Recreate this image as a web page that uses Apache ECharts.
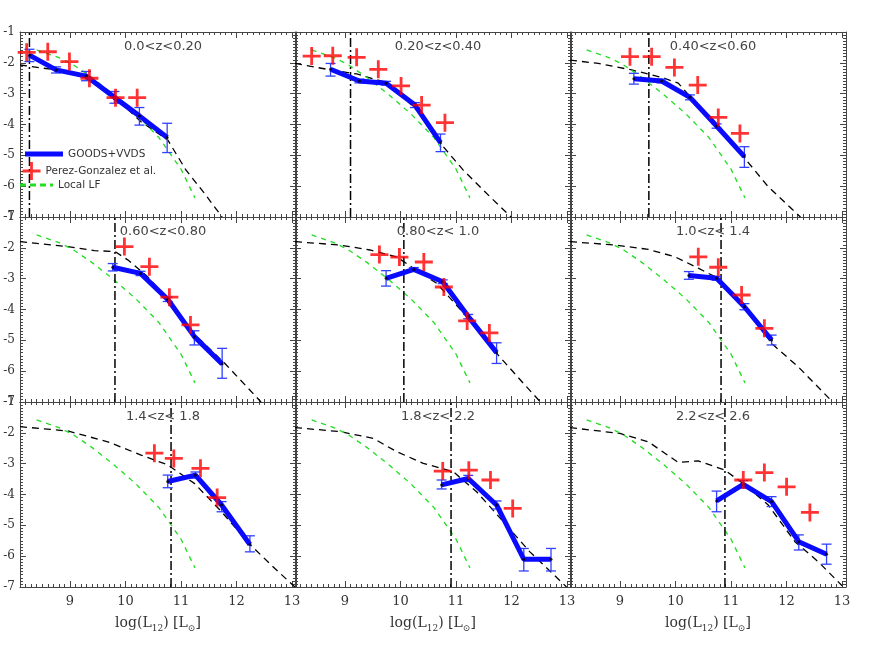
<!DOCTYPE html>
<html>
<head>
<meta charset="utf-8">
<script src="https://cdn.jsdelivr.net/npm/echarts@6/dist/echarts.min.js"></script>
<style>
  html, body { margin: 0; background: #fff; }
  #chart { width: 887px; height: 654px; }
</style>
</head>
<body>
<div id="chart"></div>
<script>
// redshift bins, one panel each (row by row)
const zLabels = ['0.0<z<0.20', '0.20<z<0.40', '0.40<z<0.60',
                 '0.60<z<0.80', '0.80<z< 1.0', '1.0<z< 1.4',
                 '1.4<z< 1.8', '1.8<z< 2.2', '2.2<z< 2.6']

// GOODS+VVDS luminosity function, log(phi) with error range
const blueX = [
  [8.27, 8.75, 9.29, 9.80, 10.25, 10.75],
  [8.74, 9.26, 9.74, 10.26, 10.72],
  [9.25, 9.75, 10.26, 10.74, 11.24],
  [9.77, 10.27, 10.76, 11.24, 11.74],
  [9.74, 10.24, 10.76, 11.22, 11.73],
  [10.24, 10.74, 11.24, 11.73],
  [10.76, 11.26, 11.73, 12.24],
  [10.74, 11.22, 11.73, 12.22, 12.71],
  [10.74, 11.22, 11.73, 12.22, 12.72],
]
const blueY = [
  [-1.75, -2.23, -2.43, -3.12, -3.72, -4.42],
  [-2.21, -2.59, -2.66, -3.37, -4.59],
  [-2.52, -2.59, -3.12, -4.05, -5.04],
  [-2.63, -2.83, -3.67, -4.88, -5.77],
  [-2.99, -2.70, -3.10, -4.23, -5.40],
  [-2.90, -2.99, -3.91, -4.99],
  [-3.58, -3.37, -4.34, -5.62],
  [-3.69, -3.48, -4.34, -6.10, -6.10],
  [-4.21, -3.67, -4.23, -5.53, -5.94],
]
const errLo = [
  [-1.96, -2.33, -2.58, -3.31, -4.02, -4.91],
  [-2.43, -2.65, -2.72, -3.45, -4.88],
  [-2.69, -2.65, -3.20, -4.12, -5.39],
  [-2.75, -2.90, -3.74, -5.15, -6.23],
  [-3.24, -2.76, -3.16, -4.30, -5.75],
  [-3.02, -3.05, -4.01, -5.15],
  [-3.78, -3.47, -4.56, -5.86],
  [-3.82, -3.58, -4.47, -6.48, -6.48],
  [-4.56, -3.79, -4.39, -5.80, -6.26],
]
const errHi = [
  [-1.56, -2.13, -2.28, -2.93, -3.45, -3.96],
  [-2.02, -2.53, -2.60, -3.29, -4.31],
  [-2.34, -2.53, -3.04, -3.98, -4.72],
  [-2.51, -2.76, -3.60, -4.69, -5.26],
  [-2.74, -2.64, -3.04, -4.16, -5.08],
  [-2.77, -2.93, -3.81, -4.83],
  [-3.37, -3.27, -4.23, -5.34],
  [-3.53, -3.38, -4.21, -5.75, -5.75],
  [-3.89, -3.55, -4.07, -5.31, -5.61],
]

// Perez-Gonzalez et al.
const redX = [
  [8.22, 8.60, 8.99, 9.35, 9.82, 10.21],
  [8.40, 8.78, 9.21, 9.60, 10.01, 10.38, 10.80],
  [9.18, 9.57, 9.98, 10.40, 10.77, 11.16],
  [9.98, 10.43, 10.79, 11.17],
  [9.62, 9.98, 10.42, 10.78, 11.20, 11.60],
  [10.41, 10.77, 11.19, 11.60],
  [10.52, 10.87, 11.35, 11.65],
  [10.76, 11.23, 11.62, 12.02],
  [11.22, 11.60, 12.00, 12.42],
]
const redY = [
  [-1.66, -1.64, -1.96, -2.50, -3.13, -3.13],
  [-1.78, -1.77, -1.82, -2.21, -2.75, -3.37, -3.94],
  [-1.80, -1.80, -2.15, -2.72, -3.77, -4.29],
  [-1.96, -2.61, -3.60, -4.50],
  [-2.22, -2.30, -2.46, -3.27, -4.37, -4.76],
  [-2.29, -2.63, -3.53, -4.61],
  [-2.66, -2.83, -3.15, -4.10],
  [-3.24, -3.21, -3.53, -4.45],
  [-3.53, -3.29, -3.75, -4.58],
]

// evolving model LF (black dashed)
const modelX = [
  [8.10, 8.75, 9.29, 9.80, 10.28, 10.76, 11.09, 11.42, 11.74],
  [8.10, 8.74, 9.21, 9.69, 9.99, 10.41, 10.77, 11.13, 11.61, 11.99],
  [8.10, 8.61, 9.21, 9.75, 10.05, 10.29, 10.71, 11.25, 11.67, 12.25],
  [8.10, 8.96, 9.44, 9.81, 10.04, 10.40, 10.76, 11.24, 11.79, 12.44],
  [8.10, 8.91, 9.45, 9.93, 10.23, 10.65, 11.25, 11.73, 12.21, 12.52],
  [8.10, 8.91, 9.51, 9.99, 10.41, 10.77, 11.25, 11.73, 12.21, 12.83],
  [8.10, 8.96, 9.68, 10.28, 10.76, 11.24, 11.73, 12.24, 12.69, 13.05],
  [8.10, 8.91, 9.51, 9.93, 10.41, 10.95, 11.37, 11.85, 12.33, 12.99],
  [8.10, 9.00, 9.51, 10.05, 10.41, 10.89, 11.25, 11.67, 12.15, 12.57, 13.00],
]
const modelY = [
  [-2.07, -2.23, -2.46, -3.10, -3.91, -4.50, -5.48, -6.23, -7.00],
  [-2.02, -2.23, -2.36, -2.61, -2.99, -3.75, -4.72, -5.48, -6.34, -7.00],
  [-1.91, -2.02, -2.23, -2.47, -2.66, -3.15, -3.91, -5.10, -6.02, -7.00],
  [-1.80, -1.96, -2.09, -2.12, -2.39, -2.94, -3.67, -4.80, -5.75, -7.00],
  [-1.80, -1.91, -2.07, -2.29, -2.66, -3.15, -4.34, -5.42, -6.39, -7.00],
  [-1.80, -1.91, -2.05, -2.29, -2.66, -2.99, -3.91, -5.10, -5.86, -7.00],
  [-1.80, -1.94, -2.29, -2.72, -3.04, -3.64, -4.56, -5.62, -6.40, -7.00],
  [-1.83, -1.96, -2.18, -2.61, -2.99, -3.26, -3.91, -4.88, -5.86, -7.00],
  [-1.83, -2.02, -2.29, -2.96, -2.91, -3.21, -3.69, -4.34, -5.53, -6.18, -6.96],
]

// local LF (green dashed), same in every panel
const localX = [8.40, 8.80, 9.05, 9.40, 9.80, 10.20, 10.60, 11.00, 11.25]
const localY = [-1.58, -1.83, -2.05, -2.48, -3.05, -3.68, -4.42, -5.45, -6.38]

// completeness limit (dash-dot vertical)
const limitX = [8.27, 9.10, 9.52, 9.81, 10.06, 10.82, 10.82, 10.91, 10.89]

const xMin = 8.1, xMax = 13.07, yMin = -7, yMax = -1
const colLeft = [20, 295, 570]
const rowTop = [32, 217, 402]
const panelW = 276, panelH = 185

const axisColor = '#444'
const textColor = '#333'
const blue = '#0a0aff'
const red = '#ff0000'
const green = '#22dd22'
const crossPath = 'path://M0,7.6h18v2.8h-18z M7.6,0h2.8v18h-2.8z'

const zip = (xs, ys) => xs.map((x, k) => [x, ys[k]])

const grids = [], xAxes = [], yAxes = [], titles = [], series = []

function tickStyle() {
  return {
    axisLine: { show: true, lineStyle: { color: axisColor, width: 1 } },
    axisTick: { show: true, inside: true, length: 6, lineStyle: { color: axisColor } },
    minorTick: { show: true, splitNumber: 10, length: 3, lineStyle: { color: axisColor } },
    splitLine: { show: false },
    minorSplitLine: { show: false },
  }
}

for (let i = 0; i < 9; i++) {
  const r = Math.floor(i / 3), c = i % 3
  grids.push({ left: colLeft[c], top: rowTop[r], width: panelW, height: panelH })

  const bottomRow = r === 2
  xAxes.push({
    gridIndex: i, type: 'value', position: 'bottom', min: xMin, max: xMax, splitNumber: 5,
    ...tickStyle(),
    axisLabel: {
      show: bottomRow, margin: 8, fontSize: 13, fontFamily: 'DejaVu Serif', color: textColor,
      formatter: (v) => Math.abs(v - Math.round(v)) < 1e-6 ? String(Math.round(v)) : '',
    },
    name: bottomRow ? 'log(L{s|12}) [L{s|⊙}]' : '',
    nameLocation: 'middle', nameGap: 26,
    nameTextStyle: {
      fontSize: 14, fontFamily: 'DejaVu Serif', color: textColor, lineHeight: 20,
      rich: { s: { fontSize: 9, fontFamily: 'DejaVu Serif', color: textColor, verticalAlign: 'bottom', lineHeight: 20 } },
    },
  })
  xAxes.push({
    gridIndex: i, type: 'value', position: 'top', min: xMin, max: xMax, splitNumber: 5,
    ...tickStyle(), axisLabel: { show: false },
  })
  yAxes.push({
    gridIndex: i, type: 'value', position: 'left', min: yMin, max: yMax, interval: 1,
    ...tickStyle(),
    axisLabel: {
      show: c === 0, margin: 5, fontSize: 12, fontFamily: 'DejaVu Serif', color: textColor,
      showMinLabel: true, showMaxLabel: true,
      formatter: (v) => '-' + Math.abs(v),
    },
  })
  yAxes.push({
    gridIndex: i, type: 'value', position: 'right', min: yMin, max: yMax, interval: 1,
    ...tickStyle(), axisLabel: { show: false },
  })

  titles.push({
    text: zLabels[i], left: colLeft[c] + panelW / 2, top: rowTop[r] + 3, textAlign: 'center',
    textStyle: { fontSize: 13, fontWeight: 'normal', fontFamily: 'DejaVu Sans', color: '#444' },
  })

  const ax = { xAxisIndex: 2 * i, yAxisIndex: 2 * i }

  series.push({
    name: 'model', type: 'line', ...ax, data: zip(modelX[i], modelY[i]), symbol: 'none', z: 2,
    lineStyle: { color: '#000', width: 1.3, type: [7, 5] }, silent: true,
  })
  series.push({
    name: 'Local LF', type: 'line', ...ax, data: zip(localX, localY), symbol: 'none', z: 2,
    itemStyle: { color: green },
    lineStyle: { color: green, width: 1.3, type: [5, 5] }, silent: true,
  })
  series.push({
    name: 'limit', type: 'line', ...ax, data: [[limitX[i], yMin], [limitX[i], yMax]], symbol: 'none', z: 2,
    lineStyle: { color: '#000', width: 1.5, type: [9, 3, 2, 3] }, silent: true,
  })
  series.push({
    name: 'errors', type: 'custom', ...ax, z: 3,
    data: blueX[i].map((x, k) => [x, errLo[i][k], errHi[i][k]]),
    encode: { x: 0, y: [1, 2] },
    renderItem: (params, api) => {
      const lo = api.coord([api.value(0), api.value(1)])
      const hi = api.coord([api.value(0), api.value(2)])
      const st = { stroke: '#3040ff', lineWidth: 1.3 }
      const w = 5
      return {
        type: 'group',
        children: [
          { type: 'line', shape: { x1: lo[0], y1: lo[1], x2: hi[0], y2: hi[1] }, style: st },
          { type: 'line', shape: { x1: lo[0] - w, y1: lo[1], x2: lo[0] + w, y2: lo[1] }, style: st },
          { type: 'line', shape: { x1: hi[0] - w, y1: hi[1], x2: hi[0] + w, y2: hi[1] }, style: st },
        ],
      }
    },
  })
  series.push({
    name: 'GOODS+VVDS', type: 'line', ...ax, data: zip(blueX[i], blueY[i]), symbol: 'none', z: 4,
    itemStyle: { color: blue },
    lineStyle: { color: blue, width: 5 },
  })
  series.push({
    name: 'points', type: 'scatter', ...ax, data: zip(blueX[i], blueY[i]), z: 5,
    symbol: 'circle', symbolSize: 3, itemStyle: { color: '#000' }, silent: true,
  })
  series.push({
    name: 'Perez-Gonzalez et al.', type: 'scatter', ...ax, data: zip(redX[i], redY[i]), z: 6,
    symbol: crossPath, symbolSize: [18, 18], itemStyle: { color: red },
  })
}

const legendText = { fontSize: 10.5, fontFamily: 'DejaVu Sans', color: textColor }
const legends = [
  { data: [{ name: 'GOODS+VVDS', icon: 'rect' }], left: 20, top: 143.5, itemWidth: 38, itemHeight: 5 },
  { data: [{ name: 'Perez-Gonzalez et al.', icon: crossPath }], left: 17.5, top: 157, itemWidth: 18, itemHeight: 18 },
  { data: [{ name: 'Local LF', icon: 'path://M0,0h6v3h-6z M10,0h6v3h-6z M20,0h6v3h-6z M30,0h3v3h-3z' }],
    left: 15, top: 174.5, itemWidth: 33, itemHeight: 3 },
].map((lg) => ({ ...lg, orient: 'vertical', selectedMode: false, textStyle: legendText, padding: 5 }))

const chart = echarts.init(document.getElementById('chart'), null, { renderer: 'canvas' })
chart.setOption({
  animation: false,
  backgroundColor: '#fff',
  title: titles,
  legend: legends,
  grid: grids,
  xAxis: xAxes,
  yAxis: yAxes,
  series: series,
})
</script>
</body>
</html>
